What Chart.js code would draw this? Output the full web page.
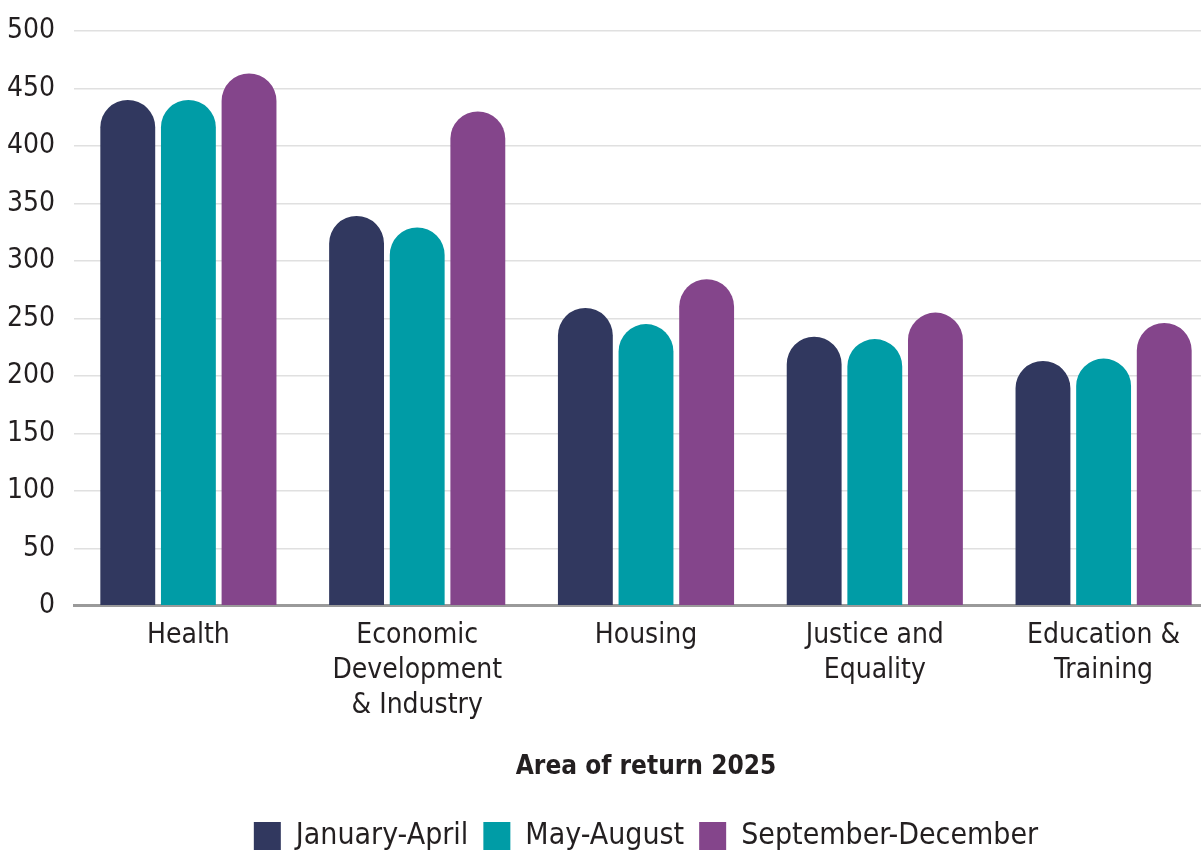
<!DOCTYPE html>
<html>
<head>
<meta charset="utf-8">
<script src="https://cdn.jsdelivr.net/npm/chart.js@4"></script>
<style>
  html, body { margin: 0; padding: 0; background: #fff; overflow: hidden; }
  #wrap { width: 1218px; height: 858px; }
</style>
</head>
<body>
<div id="wrap"><canvas id="chart"></canvas></div>
<script>
// dati
const categories = [
  ["Health"],
  ["Economic", "Development", "& Industry"],
  ["Housing"],
  ["Justice and", "Equality"],
  ["Education &", "Training"]
];
const seriesNames = ["January-April", "May-August", "September-December"];
const janApr = [440, 339, 259, 234, 213];
const mayAug = [440, 329, 245, 232, 215];
const sepDec = [463, 430, 284, 255, 246];
const yTicks = [0, 50, 100, 150, 200, 250, 300, 350, 400, 450, 500];

const colors = ["#31385F", "#009CA6", "#84458B"];
const FONT = "'DejaVu Sans Condensed', 'Liberation Sans Narrow', Roboto, sans-serif";
const TEXT = "#231F20";

const ctx = document.getElementById("chart").getContext("2d");

function makeSet(label, data, color) {
  return {
    label: label,
    data: data,
    backgroundColor: color,
    borderWidth: 0,
    borderRadius: 100,
    borderSkipped: "start",
    categoryPercentage: 0.795,
    barPercentage: 0.905
  };
}

new Chart(ctx, {
  type: "bar",
  data: {
    labels: categories,
    datasets: [
      makeSet(seriesNames[0], janApr, colors[0]),
      makeSet(seriesNames[1], mayAug, colors[1]),
      makeSet(seriesNames[2], sepDec, colors[2])
    ]
  },
  options: {
    responsive: true,
    maintainAspectRatio: false,
    animation: false,
    layout: { padding: { top: 4, left: 6, right: 0, bottom: -3 } },
    plugins: {
      legend: {
        position: "bottom",
        fullSize: false,
        labels: {
          color: TEXT,
          font: { family: FONT, size: 30, lineHeight: 1.0 },
          boxWidth: 27,
          boxHeight: 28,
          padding: 15
        }
      },
      tooltip: { enabled: false }
    },
    scales: {
      x: {
        grid: { display: false },
        border: { color: "#9A9A9A", width: 3 },
        ticks: {
          color: TEXT,
          font: { family: FONT, size: 28, lineHeight: 1.25 },
          padding: 4,
          maxRotation: 0
        },
        title: {
          display: true,
          text: "Area of return 2025",
          color: TEXT,
          font: { family: FONT, size: 26, weight: "bold" },
          padding: { top: 25, bottom: 23 }
        }
      },
      y: {
        min: 0,
        max: 500,
        afterBuildTicks: (axis) => { axis.ticks = yTicks.map(v => ({ value: v })); },
        afterFit: (axis) => { axis.width = 68; },
        grid: { color: "#E0E0E0", lineWidth: 1.5, drawTicks: false },
        border: { display: false },
        ticks: {
          color: TEXT,
          font: { family: FONT, size: 28, lineHeight: 0.85 },
          padding: 19
        }
      }
    }
  }
});
</script>
</body>
</html>
